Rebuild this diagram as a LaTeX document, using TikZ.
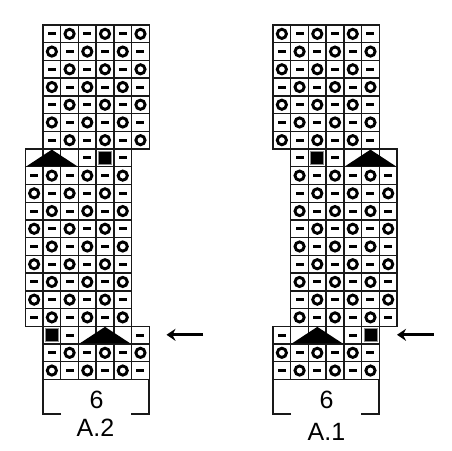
\documentclass[tikz,border=0pt]{standalone}
\usepackage{fontspec}
\setmainfont{Liberation Sans}
\usetikzlibrary{arrows.meta}
\newcommand{\cs}{17.72}
\newcommand{\gridblock}[4]{% x0 y0 ncols nrows
  \foreach \gi in {1,...,#3}{\foreach \gj in {1,...,#4}{%
    \draw[gridln] ({#1+(\gi-1)*\cs},{#2+(\gj-1)*\cs}) rectangle ++(\cs,\cs);}}}
\newcommand{\dashc}[4]{% x0 y0 col row
  \fill ({#1+(#3-0.5)*\cs-4.0},{#2+(#4-0.5)*\cs-1.5}) rectangle ++(8.0,3.0);}
\newcommand{\ringc}[4]{%
  \draw[ringln] ({#1+(#3-0.5)*\cs},{#2+(#4-0.5)*\cs}) circle (4.6);}
\newcommand{\sqc}[4]{%
  \filldraw[fill=black,draw=black!45,line width=0.8] ({#1+(#3-1)*\cs+2.4},{#2+(#4-1)*\cs+2.4}) rectangle ++({\cs-4.8},{\cs-4.8});}
\newcommand{\tric}[4]{% x0 y0 startcol row (spans 3 cols)
  \fill ({#1+(#3-1)*\cs+1.2},{#2+#4*\cs-0.5}) -- ({#1+(#3+0.5)*\cs},{#2+(#4-1)*\cs+0.6}) -- ({#1+(#3+2)*\cs-1.2},{#2+#4*\cs-0.5}) -- cycle;}
\newcommand{\rowA}[3]{% x0 y0 row : - O - O - O
  \foreach \cc in {1,3,5}{\dashc{#1}{#2}{\cc}{#3}}%
  \foreach \cc in {2,4,6}{\ringc{#1}{#2}{\cc}{#3}}}
\newcommand{\rowB}[3]{% O - O - O -
  \foreach \cc in {2,4,6}{\dashc{#1}{#2}{\cc}{#3}}%
  \foreach \cc in {1,3,5}{\ringc{#1}{#2}{\cc}{#3}}}
\tikzset{
  gridln/.style={draw=black!90,line width=1.4},
  ringln/.style={draw=black,line width=2.9},
  bracketln/.style={draw=black!90,line width=1.9},
  arrowln/.style={draw=black,line width=2.8,-{Stealth[length=9pt,width=12pt,inset=3pt]}},
  lbl/.style={inner sep=0pt,font=\fontsize{25}{25}\selectfont}
}
\begin{document}
\begin{tikzpicture}[x=1pt,y=-1pt]
\useasboundingbox (0,0) rectangle (452,450);
% ---------- A.2 (left) ----------
\def\XL{43}
\pgfmathsetmacro{\XLm}{\XL-\cs}
\def\YT{25}
\pgfmathsetmacro{\YM}{\YT+7*\cs}
\pgfmathsetmacro{\YB}{\YT+17*\cs}
\pgfmathsetmacro{\YE}{\YT+20*\cs}
\gridblock{\XL}{\YT}{6}{7}
\gridblock{\XLm}{\YM}{6}{10}
\gridblock{\XL}{\YB}{6}{3}
\foreach \r in {1,3,5,7}{\rowA{\XL}{\YT}{\r}}
\foreach \r in {2,4,6}{\rowB{\XL}{\YT}{\r}}
\tric{\XLm}{\YM}{1}{1}
\dashc{\XLm}{\YM}{4}{1}
\sqc{\XLm}{\YM}{5}{1}
\dashc{\XLm}{\YM}{6}{1}
\foreach \r in {2,4,6,8,10}{\rowA{\XLm}{\YM}{\r}}
\foreach \r in {3,5,7,9}{\rowB{\XLm}{\YM}{\r}}
\sqc{\XL}{\YB}{1}{1}
\dashc{\XL}{\YB}{2}{1}
\tric{\XL}{\YB}{3}{1}
\dashc{\XL}{\YB}{6}{1}
\rowA{\XL}{\YB}{2}
\rowB{\XL}{\YB}{3}
% bracket
\pgfmathsetmacro{\XLr}{\XL+6*\cs}
\draw[bracketln] (\XL+18,414) -- (\XL,414) -- (\XL,\YE);
\draw[bracketln] (\XLr-18,414) -- (\XLr,414) -- (\XLr,\YE);
\node[lbl] (sixL) at (96.5,399.5) {6};
\node[lbl] (nameL) at (95.5,428) {A.2};
\coordinate (arrLtail) at (203,334.8);
\coordinate (arrLtip) at (166.5,334.8);
\draw[arrowln] (arrLtail) -- (arrLtip);
% ---------- A.1 (right) ----------
\def\XR{273}
\pgfmathsetmacro{\XRm}{\XR+\cs}
\gridblock{\XR}{\YT}{6}{7}
\gridblock{\XRm}{\YM}{6}{10}
\gridblock{\XR}{\YB}{6}{3}
\foreach \r in {1,3,5,7}{\rowB{\XR}{\YT}{\r}}
\foreach \r in {2,4,6}{\rowA{\XR}{\YT}{\r}}
\dashc{\XRm}{\YM}{1}{1}
\sqc{\XRm}{\YM}{2}{1}
\dashc{\XRm}{\YM}{3}{1}
\tric{\XRm}{\YM}{4}{1}
\foreach \r in {2,4,6,8,10}{\rowB{\XRm}{\YM}{\r}}
\foreach \r in {3,5,7,9}{\rowA{\XRm}{\YM}{\r}}
\dashc{\XR}{\YB}{1}{1}
\tric{\XR}{\YB}{2}{1}
\dashc{\XR}{\YB}{5}{1}
\sqc{\XR}{\YB}{6}{1}
\rowB{\XR}{\YB}{2}
\rowA{\XR}{\YB}{3}
\pgfmathsetmacro{\XRr}{\XR+6*\cs}
\draw[bracketln] (\XR+18,414) -- (\XR,414) -- (\XR,\YE);
\draw[bracketln] (\XRr-18,414) -- (\XRr,414) -- (\XRr,\YE);
\node[lbl] (sixR) at (326.5,399.5) {6};
\node[lbl] (nameR) at (326.5,432) {A.1};
\coordinate (arrRtail) at (433.5,334.8);
\coordinate (arrRtip) at (397,334.8);
\draw[arrowln] (arrRtail) -- (arrRtip);
\end{tikzpicture}
\end{document}
